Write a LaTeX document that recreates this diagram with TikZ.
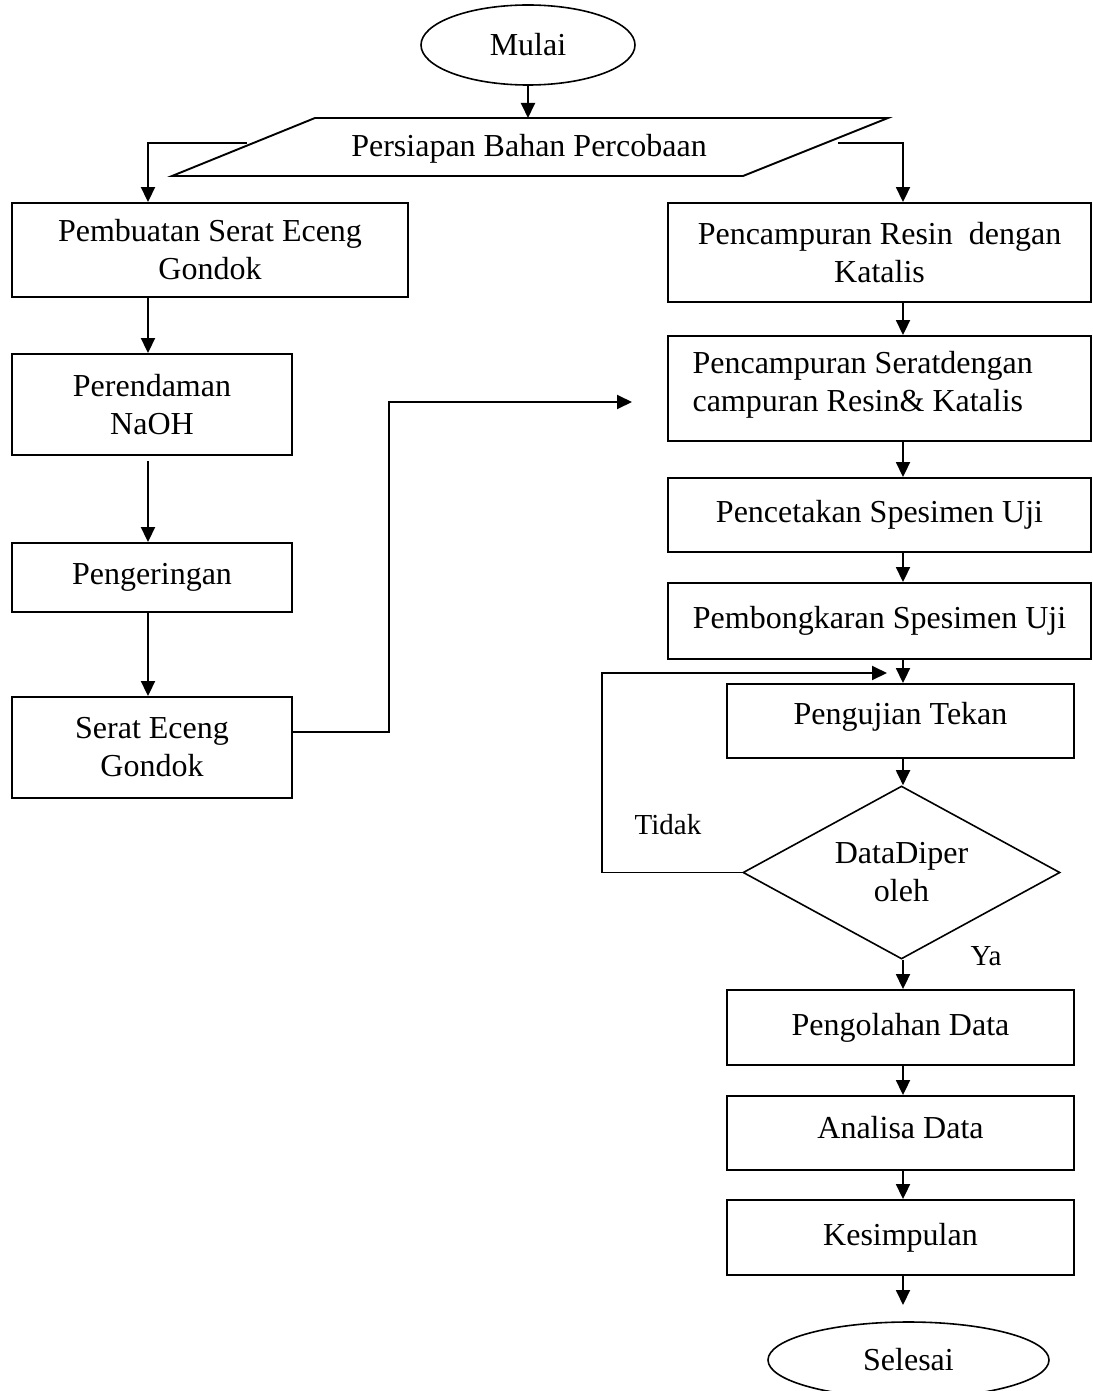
\documentclass[tikz,border=0pt]{standalone}
\usepackage{fontspec}
\setmainfont{Liberation Serif}
\usetikzlibrary{shapes.geometric,arrows.meta}
\begin{document}
\begin{tikzpicture}[x=1pt,y=-1pt,
  every node/.style={font=\fontsize{32}{38}\selectfont},
  box/.style={draw,line width=1.9pt,rectangle,inner sep=0pt,align=center},
  term/.style={draw,line width=1.6pt,ellipse,inner sep=0pt},
  arr/.style={line width=1.9pt,-{Triangle[length=15pt,width=14pt]}},
  lbl/.style={font=\fontsize{29}{34}\selectfont}]
\useasboundingbox (0,0) rectangle (1092,1391);
\coordinate (lx) at (148,0);
\coordinate (ax) at (903,0);
% terminals
\node[term,minimum width=214pt,minimum height=80pt] (mulai) at (528,45) {Mulai};
\node[term,minimum width=281pt,minimum height=76pt] (selesai) at (908.5,1360) {Selesai};
% parallelogram
\draw[line width=1.9pt] (315,118) -- (888,118) -- (743,176) -- (172,176) -- cycle;
\node (persiapan) at (529,149) {Persiapan Bahan Percobaan};
\coordinate (ptop) at (528,118);
\coordinate (pl) at (247,143);
\coordinate (pr) at (838,143);
% left column
\node[box,minimum width=396pt,minimum height=94pt] (b1) at (210,250) {Pembuatan Serat Eceng\\Gondok};
\node[box,minimum width=280pt,minimum height=101pt] (b2) at (152,404.5) {Perendaman\\NaOH};
\node[box,minimum width=280pt,minimum height=69pt] (b3) at (152,577.5) {Pengeringan};
\node[box,minimum width=280pt,minimum height=101pt] (b4) at (152,747.5) {Serat Eceng\\Gondok};
% right column
\node[box,minimum width=423pt,minimum height=99pt] (r1) at (879.5,252.5) {Pencampuran Resin\ \ dengan\\Katalis};
\node[box,minimum width=423pt,minimum height=105pt] (r2) at (879.5,388.5) {};
\node[align=left,anchor=west] (r2t) at (689,385) {Pencampuran Seratdengan\\campuran Resin\& Katalis};
\node[box,minimum width=423pt,minimum height=74pt] (r3) at (879.5,515) {Pencetakan Spesimen Uji};
\node[box,minimum width=423pt,minimum height=76pt] (r4) at (879.5,621) {Pembongkaran Spesimen Uji};
\node[box,minimum width=347pt,minimum height=74pt] (r5) at (900.5,721) {};
\node (r5t) at (900.5,717) {Pengujian Tekan};
\node[draw,line width=1.6pt,diamond,shape aspect=1.83,inner sep=0pt,minimum width=317pt,minimum height=173pt,align=center] (dia) at (901.5,872.5) {DataDiper\\oleh};
\node[box,minimum width=347pt,minimum height=75pt] (r6) at (900.5,1027.5) {Pengolahan Data};
\node[box,minimum width=347pt,minimum height=74pt] (r7) at (900.5,1133) {};
\node (r7t) at (900.5,1128) {Analisa Data};
\node[box,minimum width=347pt,minimum height=75pt] (r8) at (900.5,1237.5) {Kesimpulan};
\node[lbl] (tidak) at (668,825) {Tidak};
\node[lbl] (ya) at (986,956) {Ya};
% connectors
\draw[arr] (mulai.south) -- (ptop);
\draw[arr] (pl) -| (b1.north -| lx);
\draw[arr] (pr) -| (r1.north -| ax);
\draw[arr] (b1.south -| lx) -- (b2.north -| lx);
\draw[arr] ([yshift=-5pt]b2.south -| lx) -- (b3.north -| lx);
\draw[arr] (b3.south -| lx) -- (b4.north -| lx);
\coordinate (tipR) at (632,402);
\draw[arr] ([yshift=15.5pt]b4.east) -- (389,732) -- (389,402) -- (tipR);
\draw[arr] (r1.south -| ax) -- (r2.north -| ax);
\draw[arr] (r2.south -| ax) -- (r3.north -| ax);
\draw[arr] (r3.south -| ax) -- (r4.north -| ax);
\draw[arr] (r4.south -| ax) -- (r5.north -| ax);
\draw[arr] (r5.south -| ax) -- (dia.north -| ax);
\coordinate (loopEnd) at (887,673);
\draw[arr] (dia.west) -- (602,872.5) -- (602,673) -- (loopEnd);
\draw[arr] (dia.south -| ax) -- (r6.north -| ax);
\draw[arr] (r6.south -| ax) -- (r7.north -| ax);
\draw[arr] (r7.south -| ax) -- (r8.north -| ax);
\draw[arr] (r8.south -| ax) -- (903,1305);
\end{tikzpicture}
\end{document}
